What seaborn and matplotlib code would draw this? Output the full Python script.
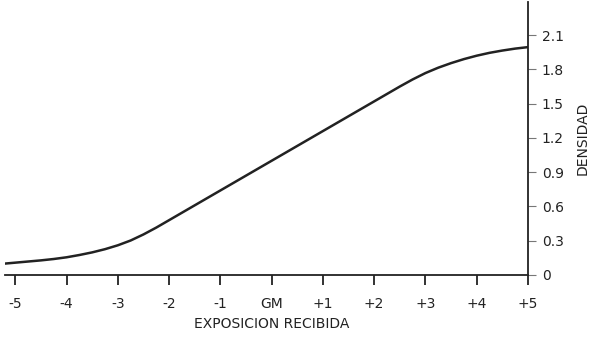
import matplotlib
matplotlib.use("Agg")
import matplotlib.pyplot as plt
import seaborn as sns
import pandas as pd

exposure = [-5.2, -5.0, -4.75, -4.5, -4.25, -4.0, -3.75, -3.5, -3.25, -3.0, -2.75, -2.5, -2.25, -2.0,
            -1.0, 0.0, 1.0, 2.0, 2.5, 2.75, 3.0, 3.25, 3.5, 3.75, 4.0, 4.25, 4.5, 4.75, 5.0]
density = [0.100, 0.108, 0.118, 0.128, 0.140, 0.155, 0.175, 0.198, 0.226, 0.260, 0.302, 0.355, 0.415, 0.480,
           0.740, 1.000, 1.260, 1.520, 1.650, 1.712, 1.768, 1.815, 1.855, 1.890, 1.920, 1.945, 1.965, 1.982, 1.995]
x_ticks = [-5, -4, -3, -2, -1, 0, 1, 2, 3, 4, 5]
x_labels = ["-5", "-4", "-3", "-2", "-1", "GM", "+1", "+2", "+3", "+4", "+5"]
y_ticks = [0, 0.3, 0.6, 0.9, 1.2, 1.5, 1.8, 2.1]
y_labels = ["0", "0.3", "0.6", "0.9", "1.2", "1.5", "1.8", "2.1"]

sns.set_style("white")
plt.rcParams['font.family'] = ['DejaVu Sans']

df = pd.DataFrame({"exp": exposure, "den": density})
fig = plt.figure(figsize=(6, 3.37), dpi=100)
ax = fig.add_axes([5/600, 1-275/337, 523/600, 273/337])
sns.lineplot(data=df, x="exp", y="den", ax=ax, color="#222222", linewidth=1.8)

ax.set_xlim(-5.2, 5)
ax.set_ylim(0, 2.39)
for s in ["left", "top"]:
    ax.spines[s].set_visible(False)
for s in ["bottom", "right"]:
    ax.spines[s].set_color("#222222")
    ax.spines[s].set_linewidth(1.3)

ax.set_xticks(x_ticks)
ax.set_xticklabels(x_labels, fontsize=10, color="#222222")
ax.tick_params(axis="x", direction="out", length=7, width=1.3, color="#222222", pad=9, bottom=True)

ax.yaxis.tick_right()
ax.set_yticks(y_ticks)
ax.set_yticklabels(y_labels, fontsize=10, color="#222222")
ax.tick_params(axis="y", direction="out", length=6, width=0.8, color="#777777", pad=4, right=True, left=False)

ax.set_xlabel("EXPOSICION RECIBIDA", fontsize=10, color="#222222", labelpad=10)
ax.xaxis.set_label_coords((0 + 5.2) / 10.2, -0.155)
ax.yaxis.set_label_position("right")
ax.set_ylabel("DENSIDAD", fontsize=10, color="#222222", labelpad=8)

fig.savefig("out.png", dpi=100)
